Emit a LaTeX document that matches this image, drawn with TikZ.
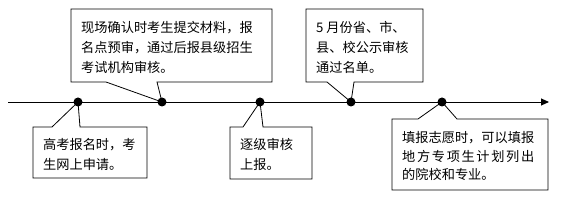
\documentclass[tikz,border=0pt]{standalone}
\usepackage{fontspec}
\setmainfont{Noto Sans CJK SC}
\usetikzlibrary{arrows.meta}
\tikzset{
  dot/.style={circle,fill=black,inner sep=0pt,minimum size=9pt},
  callout/.style={draw=black,fill=white,line width=0.8pt,line join=miter},
  txt/.style={anchor=base west,inner sep=0pt,align=left,font=\fontsize{13.2pt}{20pt}\selectfont},
  axis/.style={line width=0.9pt,-{Triangle[length=8pt,width=7pt]}}
}
\begin{document}
\begin{tikzpicture}[x=1pt,y=-1pt]
\useasboundingbox (0,0) rectangle (574,200);
% axis
\coordinate (s) at (8,102);
\coordinate (e) at (549,102);
\draw[axis] (s) -- (e);
% dots (positions)
\coordinate (p1) at (78,102);
\coordinate (p2) at (162,102);
\coordinate (p3) at (260,102);
\coordinate (p4) at (351,102);
\coordinate (p5) at (442,102);
% callouts
\draw[callout] (71,9) -- (272,9) -- (272,82) -- (157,82) -- (p2) -- (106,82) -- (71,82) -- cycle;
\draw[callout] (306,9) -- (423,9) -- (423,82) -- (354,82) -- (p4) -- (327,82) -- (306,82) -- cycle;
\draw[callout] (33,127) -- (52,127) -- (p1) -- (80,127) -- (147,127) -- (147,178) -- (33,178) -- cycle;
\draw[callout] (230,127) -- (243,127) -- (p3) -- (263,127) -- (312,127) -- (312,179) -- (230,179) -- cycle;
\draw[callout] (392,119) -- (418,119) -- (p5) -- (457,119) -- (548,119) -- (548,190) -- (392,190) -- cycle;
% dots
\node[dot] (d1) at (p1) {};
\node[dot] (d2) at (p2) {};
\node[dot] (d3) at (p3) {};
\node[dot] (d4) at (p4) {};
\node[dot] (d5) at (p5) {};
% texts (anchored at baseline of last line)
\node[txt] (t1) at (81,73) {现场确认时考生提交材料，报\\名点预审，通过后报县级招生\\考试机构审核。};
\node[txt] (t2) at (316,73) {5 月份省、市、\\县、校公示审核\\通过名单。};
\node[txt] (t3) at (43,170) {高考报名时，考\\生网上申请。};
\node[txt] (t4) at (240,170) {逐级审核\\上报。};
\node[txt,font=\fontsize{13.2pt}{18.5pt}\selectfont] (t5) at (402,180) {填报志愿时，可以填报\\\makebox[132pt][s]{地\hfil 方\hfil 专\hfil 项\hfil 生\hfil 计\hfil 划\hfil 列\hfil 出}\\的院校和专业。};
\end{tikzpicture}
\end{document}
